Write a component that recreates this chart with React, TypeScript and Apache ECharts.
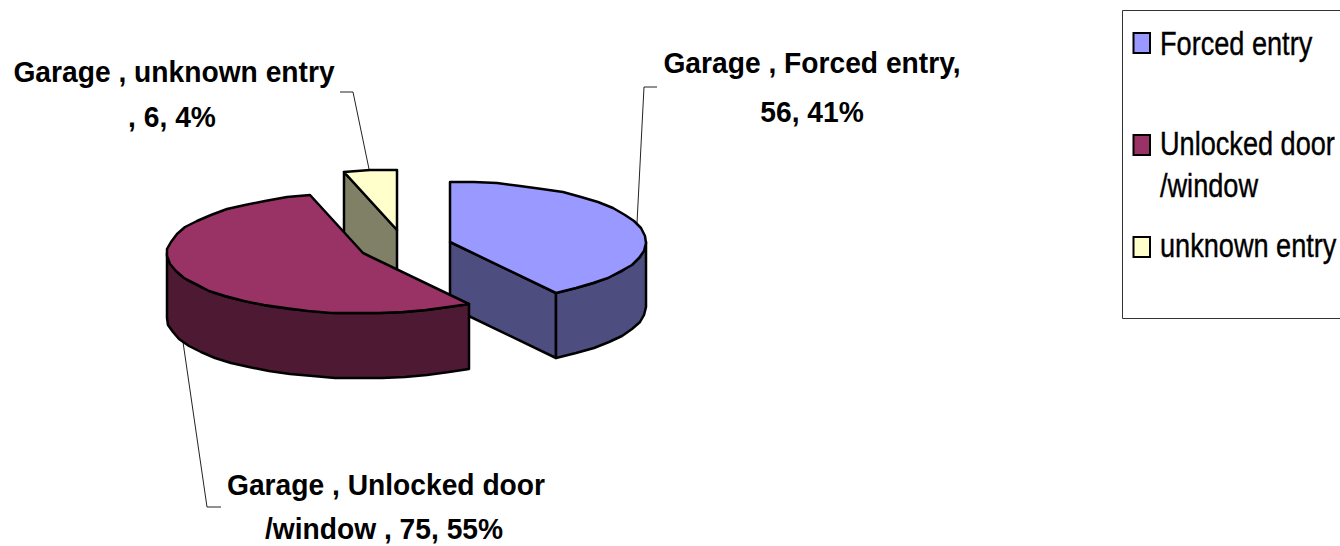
import React, { useEffect, useRef } from "react";
import * as echarts from "echarts";

const categories = ["Forced entry", "Unlocked door /window", "unknown entry"];
const values = [56, 75, 6];
const topColors = ["#9999FF", "#993366", "#FFFFCC"];
const wallColors = ["#4D4D80", "#4D1933", "#808066"];
const labelLines = [
  ["Garage , Forced entry,", "56, 41%"],
  ["Garage , Unlocked door", "/window , 75, 55%"],
  ["Garage , unknown entry", ", 6, 4%"],
];
const legendLines = [["Forced entry"], ["Unlocked door", "/window"], ["unknown entry"]];

// layout
const RX = 196;
const RY = 60.5;
const DEPTH = 65;
const sliceCentres = [
  [450, 242],
  [363, 253],
  [397, 230],
];
const drawOrder = [2, 0, 1];
const labelPositions = [
  [[812, 73], [812, 122]],
  [[386, 495], [384, 539]],
  [[174, 82], [172, 127]],
];
const leaderPaths = [
  [[637, 223], [644, 87], [657, 87]],
  [[183, 342], [207, 507], [221, 507]],
  [[369, 169], [353, 92], [340, 92]],
];
const legendSwatchY = [33, 135, 237];
const legendBaselines = [[55], [155, 197], [257]];

const total = values.reduce((a, b) => a + b, 0);
const starts: number[] = [];
values.reduce((acc, v, i) => {
  starts[i] = acc;
  return acc + (v / total) * 360;
}, 0);

const STEP = 7;
function pt(c: number[], deg: number, drop = 0) {
  const r = (deg * Math.PI) / 180;
  return [Math.round(c[0] + RX * Math.sin(r)), Math.round(c[1] - RY * Math.cos(r) + drop)];
}
function arc(c: number[], a: number, b: number, drop = 0) {
  const out: number[][] = [];
  const n = Math.max(1, Math.round((b - a) / STEP));
  for (let i = 0; i <= n; i++) out.push(pt(c, a + ((b - a) * i) / n, drop));
  return out;
}

const renderSlice = (params: any, api: any) => {
  const i = api.value(0) as number;
  const v = api.value(1) as number;
  const a = starts[i];
  const b = a + (v / total) * 360;
  const c = sliceCentres[i];
  const cd = [c[0], c[1] + DEPTH];
  const wallStyle = { fill: wallColors[i], stroke: "#000", lineWidth: 2.5, lineJoin: "round" };
  const children: any[] = [];
  const radialWall = (deg: number) => {
    const p = pt(c, deg);
    const q = pt(c, deg, DEPTH);
    return { type: "polygon", shape: { points: [c, p, q, cd] }, style: wallStyle };
  };
  if (-Math.sin((a * Math.PI) / 180) > 0.01) children.push(radialWall(a));
  if (Math.sin((b * Math.PI) / 180) > 0.01) children.push(radialWall(b));
  const wa = Math.max(a, 90);
  const wb = Math.min(b, 270);
  if (wb > wa) {
    const up = arc(c, wa, wb);
    const down = arc(c, wa, wb, DEPTH).reverse();
    children.push({ type: "polygon", shape: { points: [...up, ...down] }, style: wallStyle });
  }
  children.push({
    type: "polygon",
    shape: { points: [c, ...arc(c, a, b)] },
    style: { fill: topColors[i], stroke: "#000", lineWidth: 2.5, lineJoin: "round" },
  });
  return { type: "group", children };
};

const FONT = "'Liberation Sans', Arial, sans-serif";

function buildGraphic() {
  const g: any[] = [];
  g.push({
    type: "rect",
    shape: { x: 1122.5, y: 10.5, width: 230, height: 308 },
    style: { fill: "#fff", stroke: "#333", lineWidth: 1 },
  });
  leaderPaths.forEach((p) =>
    g.push({
      type: "polyline",
      shape: { points: p },
      style: { fill: "none", stroke: "#222", lineWidth: 1 },
    })
  );
  labelLines.forEach((lines, i) =>
    lines.forEach((t, j) =>
      g.push({
        type: "text",
        x: labelPositions[i][j][0],
        y: labelPositions[i][j][1] - 10.7,
        scaleX: 0.94,
        style: {
          text: t,
          fontFamily: FONT,
          fontWeight: "bold",
          fontSize: 30,
          fill: "#000",
          align: "center",
          verticalAlign: "middle",
        },
      })
    )
  );
  categories.forEach((_, i) => {
    g.push({
      type: "rect",
      shape: { x: 1133.5, y: legendSwatchY[i], width: 16.5, height: 20 },
      style: { fill: topColors[i], stroke: "#000", lineWidth: 2 },
    });
    legendLines[i].forEach((t, j) =>
      g.push({
        type: "text",
        x: 1160,
        y: legendBaselines[i][j] - 12,
        scaleX: 0.81,
        style: {
          text: t,
          fontFamily: FONT,
          fontSize: 33.5,
          fill: "#000",
          stroke: "#000",
          lineWidth: 0.4,
          align: "left",
          verticalAlign: "middle",
        },
      })
    );
  });
  return g;
}

export default function App() {
  const ref = useRef<HTMLDivElement>(null);
  useEffect(() => {
    const chart = echarts.init(ref.current!, undefined, { renderer: "svg" });
    chart.setOption({
      animation: false,
      backgroundColor: "#fff",
      graphic: buildGraphic(),
      series: [
        {
          type: "custom",
          coordinateSystem: "none",
          silent: true,
          z: 5,
          renderItem: renderSlice,
          data: drawOrder.map((i) => ({ name: categories[i], value: [i, values[i]] })),
        },
      ],
    });
    return () => chart.dispose();
  }, []);
  return <div ref={ref} style={{ position: "fixed", left: 0, top: 0, width: 1340, height: 546 }} />;
}
